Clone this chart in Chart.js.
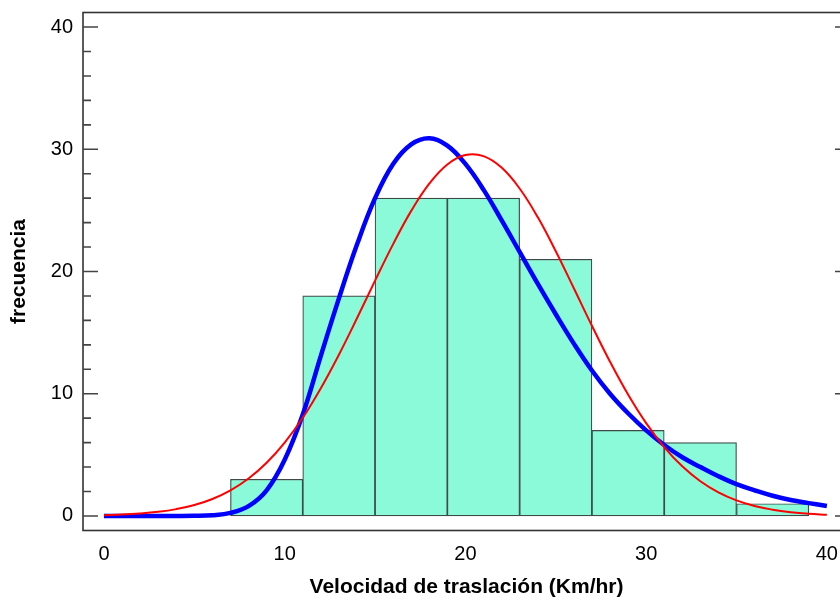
<!DOCTYPE html>
<html>
<head>
<meta charset="utf-8">
<script src="https://cdn.jsdelivr.net/npm/chart.js@4.4.0/dist/chart.umd.min.js"></script>
<style>
  html, body { margin: 0; padding: 0; background: #fff; overflow: hidden; }
  .chart-box { position: relative; width: 850px; height: 600px; }
</style>
</head>
<body>
<div class="chart-box"><canvas id="chart"></canvas></div>
<script>
// histogram bins (width 4) and counts
const binCenters = [9, 13, 17, 21, 25, 29, 33, 37];
const binCounts = [3, 18, 26, 26, 21, 7, 6, 1];

// fitted curves at each km/hr
const curveX = [0, 1, 2, 3, 4, 5, 6, 7, 8, 9, 10, 11, 12, 13, 14, 15, 16, 17, 18, 19, 20,
  21, 22, 23, 24, 25, 26, 27, 28, 29, 30, 31, 32, 33, 34, 35, 36, 37, 38, 39, 40];
const redFit = [0.06, 0.11, 0.20, 0.34, 0.56, 0.89, 1.39, 2.09, 3.06, 4.35, 6.00,
  8.03, 10.45, 13.19, 16.17, 19.25, 22.24, 24.96, 27.19, 28.76, 29.53,
  29.44, 28.50, 26.79, 24.45, 21.66, 18.63, 15.56, 12.62, 9.93, 7.59,
  5.64, 4.06, 2.84, 1.93, 1.27, 0.81, 0.51, 0.31, 0.18, 0.10];
const blueFit = [0, 0, 0, 0, 0, 0.01, 0.06, 0.25, 0.8, 2.1, 4.6,
  8.3, 13.1, 17.8, 22.2, 26.0, 28.8, 30.4, 30.9, 30.3, 28.8,
  26.7, 24.2, 21.6, 19.0, 16.5, 14.1, 11.9, 10.0, 8.4, 7.0,
  5.8, 4.8, 4.0, 3.25, 2.6, 2.1, 1.65, 1.3, 1.05, 0.82];

const xTicks = [0, 10, 20, 30, 40];
const yTicks = [0, 10, 20, 30, 40];
const yMinorTicks = [0, 2, 4, 6, 8, 10, 12, 14, 16, 18, 20, 22, 24, 26, 28, 30, 32, 34, 36, 38, 40];

// caja del grafico con marcas hacia dentro
const framePlugin = {
  id: 'frame',
  afterDatasetsDraw(chart) {
    const { ctx, chartArea: a, scales: { y } } = chart;
    ctx.save();
    ctx.strokeStyle = '#333';
    ctx.lineWidth = 1.6;
    ctx.strokeRect(a.left, a.top, a.right - a.left, a.bottom - a.top);
    ctx.strokeStyle = '#444';
    yMinorTicks.forEach(v => {
      const py = y.getPixelForValue(v);
      const len = yTicks.includes(v) ? 15 : 8;
      ctx.beginPath();
      ctx.moveTo(a.left, py); ctx.lineTo(a.left + len, py);
      ctx.moveTo(a.right, py); ctx.lineTo(a.right - len, py);
      ctx.stroke();
    });
    ctx.restore();
  }
};

const tickFont = { family: 'Liberation Sans, Arial, sans-serif', size: 20 };
const titleFont = { family: 'Liberation Sans, Arial, sans-serif', size: 21, weight: 'bold' };

new Chart(document.getElementById('chart'), {
  type: 'bar',
  data: {
    datasets: [
      {
        type: 'line',
        data: curveX.map((x, i) => ({ x, y: redFit[i] })),
        borderColor: '#ff0000',
        borderWidth: 2,
        pointRadius: 0,
        tension: 0.4,
        order: 0
      },
      {
        type: 'line',
        data: curveX.map((x, i) => ({ x, y: blueFit[i] })),
        borderColor: '#0000ff',
        borderWidth: 4.5,
        pointRadius: 0,
        tension: 0.4,
        order: 1
      },
      {
        type: 'bar',
        data: binCenters.map((x, i) => ({ x, y: binCounts[i] })),
        backgroundColor: 'rgb(138,250,216)',
        borderColor: '#3f4a46',
        borderWidth: 1.2,
        borderSkipped: false,
        barPercentage: 1,
        categoryPercentage: 1,
        order: 2
      }
    ]
  },
  options: {
    responsive: true,
    maintainAspectRatio: false,
    animation: false,
    layout: { padding: { top: 12.5, right: 0, bottom: 0, left: 0 } },
    plugins: { legend: { display: false }, tooltip: { enabled: false } },
    scales: {
      x: {
        type: 'linear',
        min: -1.16,
        max: 41.28,
        offset: false,
        grid: { display: false, drawTicks: false },
        border: { display: false },
        afterBuildTicks: s => { s.ticks = xTicks.map(v => ({ value: v })); },
        afterFit: s => { s.height = 69.5; s.paddingLeft = 0; s.paddingRight = 0; },
        ticks: { font: tickFont, color: '#000', padding: 12, maxRotation: 0 },
        title: { display: true, text: 'Velocidad de traslación (Km/hr)', font: titleFont, color: '#000', padding: { top: 0, bottom: 0 } }
      },
      y: {
        min: -1.19,
        max: 41.19,
        grid: { display: false, drawTicks: false },
        border: { display: false },
        afterBuildTicks: s => { s.ticks = yTicks.map(v => ({ value: v })); },
        afterFit: s => { s.width = 83; s.paddingTop = 0; s.paddingBottom = 0; },
        ticks: { font: tickFont, color: '#000', padding: 10 },
        title: { display: true, text: 'frecuencia', font: titleFont, color: '#000', padding: { top: 7, bottom: 0 } }
      }
    }
  },
  plugins: [framePlugin]
});
</script>
</body>
</html>
